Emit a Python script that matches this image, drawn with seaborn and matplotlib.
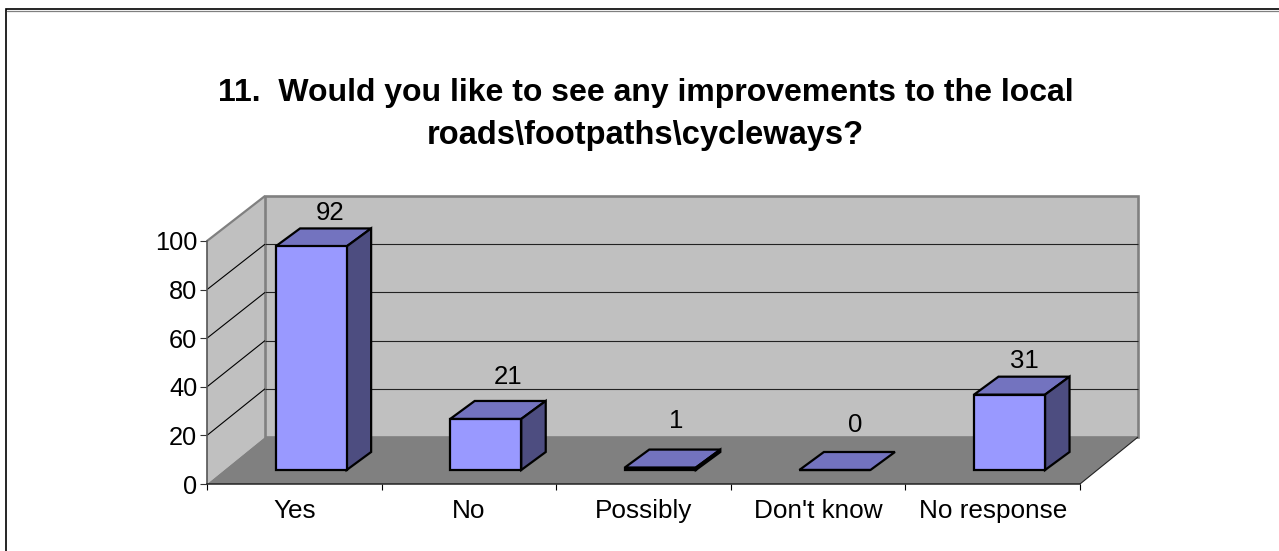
# %% 1) chart values
#

import matplotlib
matplotlib.use("Agg")
import matplotlib.pyplot as plt
from matplotlib.lines import Line2D
from matplotlib.patches import Polygon, Rectangle
from matplotlib.transforms import Affine2D, IdentityTransform
import pandas as pd
import seaborn as sns

categories = ["Yes", "No", "Possibly", "Don't know", "No response"]
responses = [92, 21, 1, 0, 31]
y_ticks = [0, 20, 40, 60, 80, 100]
title_lines = [
    "11.  Would you like to see any improvements to the local",
    "roads\\footpaths\\cycleways?"
    ]

# pixels the data labels sit above the back edge of each bar top, and sideways
label_lift = [15, 24, 29, 27, 16]
label_nudge = [1.5, 5, -1, 3, -2]

# %% 2) figure and axes (front plane of the fake 3D box)
#

sns.set_theme(style="white")
plt.rcParams["font.family"] = ["Liberation Sans", "DejaVu Sans"]

W, H = 1279, 551
fig = plt.figure(figsize=(W / 100, H / 100), dpi=100, facecolor="white")
ax = fig.add_axes([207 / W, (H - 484) / H, 873 / W, 243 / H])
ax.patch.set_alpha(0)

data = pd.DataFrame({"category": categories, "responses": responses})
sns.barplot(
    data=data,
    x="category",
    y="responses",
    color="#9999FF",
    saturation=1,
    width=0.407,
    edgecolor="black",
    linewidth=1.6,
    ax=ax
    )

ax.set_xlim(-0.5, 4.5)
ax.set_ylim(0, 100)
ax.set_xlabel("")
ax.set_ylabel("")
ax.set_yticks(y_ticks)

# depth of the box and of the bars, in pixels
box_dx, box_dy_floor, box_dy_top = 58, 47, 45
bar_dx, bar_dy = 24.5, 18
# bars stand this far into the box
shift_dx, shift_dy = 16.8, 14


def px(x, y, dx=0, dy=0):
    # data coordinates to figure pixels, with an offset
    _x, _y = ax.transData.transform((x, y))
    return (_x + dx, _y + dy)


def back(x, y):
    # same point on the back wall, which is slightly shorter than the front
    _dy = box_dy_floor + (box_dy_top - box_dy_floor) * y / y_ticks[-1]
    return px(x, y, box_dx, _dy)


def poly(points, face, edge="none", lw=0.0, z=1):
    ax.add_patch(Polygon(
        points, closed=True, facecolor=face, edgecolor=edge, linewidth=lw,
        transform=IdentityTransform(), clip_on=False, zorder=z,
        joinstyle="miter"
        ))


def line(p1, p2, color, lw, z=1.5):
    ax.plot(
        [p1[0], p2[0]], [p1[1], p2[1]], color=color, linewidth=lw,
        transform=IdentityTransform(), clip_on=False, zorder=z,
        solid_capstyle="butt"
        )


# %% 3) walls, floor and grid
#

x0, x1 = ax.get_xlim()
y_top = y_ticks[-1]

# side wall
poly([px(x0, 0), px(x0, y_top), back(x0, y_top), back(x0, 0)], "#C0C0C0", z=1)
# back wall
poly([back(x0, 0), back(x0, y_top), back(x1, y_top), back(x1, 0)],
     "#C0C0C0", edge="#808080", lw=1.9, z=1)
# side wall outline
line(px(x0, y_top), back(x0, y_top), "#808080", 1.6)
# floor
poly([px(x0, 0), px(x1, 0), back(x1, 0), back(x0, 0)], "#808080", z=1.2)

# grid on side wall and back wall
for _v in y_ticks[1:-1]:
    line(px(x0, _v), back(x0, _v), "black", 0.8)
    line(back(x0, _v), back(x1, _v), "#222222", 0.8)

# front right edge of the floor
line(px(x1, 0), back(x1, 0), "#222222", 0.8)

# %% 4) bars: shift the seaborn rectangles, add top and side faces
#

shift = Affine2D().translate(shift_dx, shift_dy)
for _bar, _lift, _nudge in zip(ax.patches[:len(categories)], label_lift, label_nudge):
    _l, _r = _bar.get_x(), _bar.get_x() + _bar.get_width()
    _h = _bar.get_height()
    _bar.set_transform(ax.transData + shift)
    _bar.set_clip_on(False)
    _bar.set_zorder(3)
    _bar.set_joinstyle("miter")

    _sx, _sy = shift_dx, shift_dy
    # top face
    poly([px(_l, _h, _sx, _sy), px(_r, _h, _sx, _sy),
          px(_r, _h, _sx + bar_dx, _sy + bar_dy), px(_l, _h, _sx + bar_dx, _sy + bar_dy)],
         "#7373BF", edge="black", lw=1.6, z=2.8)
    # side face
    if _h > 0:
        poly([px(_r, 0, _sx, _sy), px(_r, _h, _sx, _sy),
              px(_r, _h, _sx + bar_dx, _sy + bar_dy), px(_r, 0, _sx + bar_dx, _sy + bar_dy)],
             "#4D4D80", edge="black", lw=1.6, z=2.8)

    # data label
    _cx, _cy = px((_l + _r) / 2, _h, _sx + 17 + _nudge, _sy + bar_dy + _lift)
    ax.text(_cx, _cy, f"{_h:.0f}", transform=IdentityTransform(),
            ha="center", va="center", fontsize=18.5, color="black", zorder=4)

# %% 5) axis cosmetics
#

sns.despine(ax=ax)
ax.spines["left"].set_color("#555555")
ax.spines["left"].set_linewidth(1.2)
ax.spines["bottom"].set_color("#222222")
ax.spines["bottom"].set_linewidth(1.1)
for _s in ax.spines.values():
    _s.set_zorder(2)

# labels centred on the categories, tick marks on the boundaries
ax.set_xticks([_i + 0.5 for _i in range(-1, len(categories))], minor=True)
ax.tick_params(axis="x", which="major", length=0, pad=11, labelsize=18.8, colors="black")
ax.tick_params(axis="x", which="minor", bottom=True, length=4.5, width=0.8, color="black")
ax.tick_params(axis="y", left=True, length=5, width=0.8, color="#333333", pad=2,
               labelsize=18.3, labelcolor="black")

# title, two lines with their own fitted size
fig.text(645.5 / W, 1 - 100.7 / H, title_lines[0], ha="center", va="baseline",
         fontsize=23.04, fontweight="bold", color="black")
fig.text(645 / W, 1 - 143.5 / H, title_lines[1], ha="center", va="baseline",
         fontsize=23.5, fontweight="bold", color="black")

# outer frame, open at the bottom and right edge of the picture
fig.add_artist(Rectangle(
    (6, -10), W + 10, H - 9 + 10, fill=False, edgecolor="black", linewidth=1.2,
    transform=IdentityTransform()
    ))
fig.add_artist(Line2D(
    [7, W], [H - 10.7, H - 10.7], color="#808080", linewidth=0.9,
    transform=IdentityTransform()
    ))

# save plot
fig.savefig("out.png", dpi=100)
